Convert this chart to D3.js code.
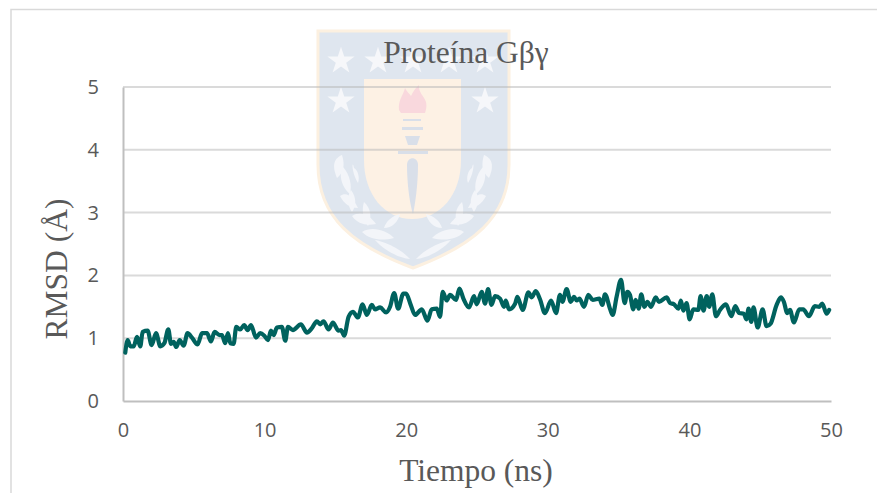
<!DOCTYPE html>
<html>
<head>
<meta charset="utf-8">
<script src="https://cdnjs.cloudflare.com/ajax/libs/d3/7.8.5/d3.min.js"></script>
<style>
html, body { margin: 0; padding: 0; background: #fff; }
svg { display: block; }
.tick-label text { font-family: "Open Sans", sans-serif; font-size: 20px; fill: #595959; }
.serif { font-family: "Liberation Serif", serif; fill: #595959; }
</style>
</head>
<body>
<div class="rmsd"></div>
<script>
var xTicks = [0, 10, 20, 30, 40, 50];
var yTicks = [0, 1, 2, 3, 4, 5];

var tiempo = [0.16, 0.33, 0.52, 0.75, 0.99, 1.22, 1.39, 1.74, 2.02, 2.33, 2.64, 2.92, 3.20, 3.39, 3.58, 3.76, 4.00, 4.28, 4.56, 4.87,
    5.27, 5.58, 5.93, 6.21, 6.47, 6.82, 6.99, 7.22, 7.41, 7.58, 7.81, 8.00, 8.28, 8.56, 8.80, 9.04, 9.39, 9.69, 9.98,
    10.24, 10.45, 10.64, 10.87, 11.22, 11.46, 11.65, 12.00, 12.56, 12.99, 13.34, 13.69, 13.93, 14.16, 14.52, 14.82,
    15.22, 15.39, 15.62, 15.93, 16.24, 16.59, 16.92, 17.22, 17.57, 17.80, 18.16, 18.58, 18.86, 19.15, 19.43, 19.80, 19.99,
    20.32, 20.63, 21.10, 21.50, 21.80, 22.16, 22.39, 22.58, 22.86, 23.10, 23.52, 23.76, 24.04, 24.44, 24.79, 24.98,
    25.33, 25.57, 25.78, 26.02, 26.28, 26.63, 26.91, 27.03, 27.26, 27.69, 27.85, 28.23, 28.63, 28.86, 29.15, 29.45, 29.80,
    30.23, 30.58, 30.86, 31.03, 31.33, 31.62, 31.85, 32.04, 32.23, 32.56, 32.86, 33.17, 33.64, 33.85, 34.04, 34.39, 34.58, 34.86,
    35.17, 35.43, 35.62, 35.80, 36.04, 36.20, 36.42, 36.60, 36.82, 37.03, 37.29, 37.62, 37.85, 38.39, 38.63, 38.91, 39.22, 39.40, 39.57, 39.80,
    40.02, 40.27, 40.63, 40.79, 41.00, 41.22, 41.40, 41.62, 41.87, 42.16, 42.58, 42.96, 43.24, 43.52, 43.85, 44.02, 44.18, 44.37, 44.53, 44.82,
    45.17, 45.45, 45.73, 46.16, 46.46, 46.67, 46.91, 47.10, 47.38, 47.76, 48.04, 48.44, 48.86, 49.17, 49.38, 49.69, 49.87];

var rmsd = [0.77, 0.97, 0.87, 0.87, 1.02, 0.87, 1.10, 1.12, 0.89, 1.08, 0.87, 0.92, 1.14, 0.91, 0.94, 0.86, 0.97, 0.88, 1.08, 1.01,
    0.90, 1.08, 1.08, 0.95, 1.10, 1.05, 1.05, 0.92, 1.08, 0.92, 0.91, 1.18, 1.14, 1.21, 1.13, 1.21, 1.01, 1.08, 1.04,
    0.97, 1.12, 1.05, 1.17, 1.18, 0.96, 1.18, 1.13, 1.22, 1.09, 1.16, 1.27, 1.22, 1.27, 1.14, 1.25,
    1.12, 1.13, 1.04, 1.34, 1.42, 1.33, 1.54, 1.37, 1.53, 1.46, 1.49, 1.41, 1.50, 1.72, 1.47, 1.71, 1.71,
    1.53, 1.37, 1.46, 1.28, 1.46, 1.47, 1.34, 1.74, 1.60, 1.69, 1.61, 1.79, 1.63, 1.49, 1.67, 1.54,
    1.74, 1.55, 1.78, 1.53, 1.67, 1.63, 1.50, 1.60, 1.46, 1.55, 1.66, 1.45, 1.73, 1.65, 1.75, 1.62, 1.40,
    1.60, 1.40, 1.69, 1.58, 1.78, 1.58, 1.66, 1.60, 1.63, 1.50, 1.69, 1.61, 1.63, 1.53, 1.70, 1.47, 1.37, 1.66,
    1.93, 1.56, 1.74, 1.69, 1.46, 1.61, 1.47, 1.70, 1.50, 1.58, 1.50, 1.65, 1.58, 1.65, 1.56, 1.54, 1.47, 1.60, 1.44, 1.56,
    1.30, 1.46, 1.45, 1.67, 1.44, 1.67, 1.50, 1.70, 1.35, 1.45, 1.54, 1.35, 1.51, 1.40, 1.39, 1.30, 1.47, 1.26, 1.49, 1.17,
    1.46, 1.19, 1.23, 1.53, 1.65, 1.58, 1.40, 1.45, 1.25, 1.46, 1.46, 1.35, 1.51, 1.50, 1.55, 1.39, 1.45];

var titulo = "Proteína Gβγ";
var xTitulo = "Tiempo (ns)";
var yTitulo = "RMSD (Å)";

function drawEscudo(svg) {
    // university crest behind the chart, very pale
    var g = svg.append("g").attr("class", "escudo");

    g.append("path")
        .attr("d", "M318,31 H509 V165 C509,218 472,246 413,268 C354,246 318,218 318,165 Z")
        .attr("fill", "#dfe6ef")
        .attr("stroke", "#fcf0e0")
        .attr("stroke-width", 3);

    g.append("path")
        .attr("d", "M364,79 H461 V160 C461,195 440,219 412,219 C385,219 364,195 364,160 Z")
        .attr("fill", "#fdf1e4");

    // flame
    g.append("path")
        .attr("d", "M399,110 C398,100 403,96 405,88 C407,92 409,93 411,96 C413,92 415,88 419,85 C418,92 424,96 426,102 C427,106 426,110 425,113 H401 Z")
        .attr("fill", "#f9d8dd");

    // torch
    g.append("g").attr("fill", "#d9dfe9").selectAll("rect")
        .data([[403, 119, 18, 2], [402, 127, 21, 3], [398, 151, 30, 3]])
        .enter().append("rect")
        .attr("x", function (d) { return d[0]; })
        .attr("y", function (d) { return d[1]; })
        .attr("width", function (d) { return d[2]; })
        .attr("height", function (d) { return d[3]; });
    g.append("path").attr("d", "M405,136 H420 L417,145 H408 Z").attr("fill", "#d9dfe9");
    g.append("path")
        .attr("d", "M407,165 C407,156 418,156 418,165 C418,185 415,205 413,214 C410,205 407,185 407,165 Z")
        .attr("fill", "#d9dfe9");

    // stars
    var star = d3.symbol().type(d3.symbolStar).size(230);
    g.append("g").attr("fill", "#f6f7fa").selectAll("path")
        .data([[341, 61], [378, 61], [413, 61], [449, 61], [485, 61], [341, 101], [485, 101]])
        .enter().append("path")
        .attr("d", star)
        .attr("transform", function (d) { return "translate(" + d[0] + "," + d[1] + ")"; });

    // laurels, one side mirrored onto the other
    var hojas = ["M337,178 C331,164 335,158 342,155 C345,165 344,172 337,178 Z",
        "M350,194 C340,186 339,172 343,167 C350,175 352,185 350,194 Z",
        "M358,183 C351,172 352,158 354,168 C358,170 360,178 358,183 Z",
        "M340,196 C348,190 354,200 358,208 C350,208 344,204 340,196 Z",
        "M352,212 C347,205 347,196 351,190 C357,198 356,206 352,212 Z",
        "M352,216 C362,210 370,216 376,224 C366,226 358,224 352,216 Z",
        "M368,226 C362,218 362,208 364,202 C371,208 372,218 368,226 Z",
        "M362,232 C372,226 386,230 394,238 C382,241 370,240 362,232 Z",
        "M384,228 C386,221 392,216 400,214 C398,222 392,228 384,228 Z",
        "M375,240 C385,242 400,248 410,259 C398,258 384,250 375,240 Z"];
    g.append("g").attr("fill", "#f3f5f9").selectAll("path")
        .data(hojas)
        .enter().append("path")
        .attr("d", function (d) { return d; });
    g.append("g").attr("fill", "#f3f5f9")
        .attr("transform", "translate(826,0) scale(-1,1)")
        .selectAll("path")
        .data(hojas)
        .enter().append("path")
        .attr("d", function (d) { return d; });
}

function drawRmsd() {
    var margin = { top: 87, right: 46, bottom: 92, left: 123 };

    var x = d3.scaleLinear().domain([0, 50]).range([0, 708]);
    var y = d3.scaleLinear().domain([0, 5]).range([314, 0]);

    var svg = d3.select(".rmsd").append("svg")
        .attr("width", 877)
        .attr("height", 493);

    // outer chart frame, cut by the page on the right and bottom
    svg.append("path")
        .attr("d", "M11,493 V9.5 H877")
        .attr("fill", "none")
        .attr("stroke", "#d9d9d9")
        .attr("stroke-width", 1.5);

    drawEscudo(svg);

    var chart = svg.append("g")
        .attr("transform", "translate(" + margin.left + "," + margin.top + ")");

    chart.selectAll(".grid")
        .data(yTicks.slice(1))
        .enter().append("line")
        .attr("class", "grid")
        .attr("x1", 0)
        .attr("x2", x(50))
        .attr("y1", function (d) { return y(d); })
        .attr("y2", function (d) { return y(d); })
        .attr("stroke", "#b5b5b5")
        .attr("stroke-opacity", 0.5)
        .attr("stroke-width", 2);

    var yAxis = d3.axisLeft(y).tickValues(yTicks).tickFormat(d3.format("d")).tickSize(0).tickPadding(24);
    var xAxis = d3.axisBottom(x).tickValues(xTicks).tickFormat(d3.format("d")).tickSize(0).tickPadding(22);

    var gy = chart.append("g").attr("class", "tick-label").call(yAxis);
    var gx = chart.append("g").attr("class", "tick-label")
        .attr("transform", "translate(0," + y(0) + ")")
        .call(xAxis);
    gy.selectAll(".domain").attr("stroke", "#bfbfbf").attr("stroke-width", 2);
    gx.selectAll(".domain").attr("stroke", "#bfbfbf").attr("stroke-width", 2);

    var line = d3.line()
        .curve(d3.curveMonotoneX)
        .x(function (d, i) { return x(tiempo[i]); })
        .y(function (d) { return y(d); });

    chart.append("path")
        .attr("d", line(rmsd))
        .attr("fill", "none")
        .attr("stroke", "#00625e")
        .attr("stroke-width", 4.2)
        .attr("stroke-linejoin", "round")
        .attr("stroke-linecap", "round");

    svg.append("text")
        .attr("class", "serif")
        .attr("x", 466)
        .attr("y", 63)
        .attr("text-anchor", "middle")
        .style("font-size", "31.5px")
        .text(titulo);

    svg.append("text")
        .attr("class", "serif")
        .attr("x", 476)
        .attr("y", 481)
        .attr("text-anchor", "middle")
        .style("font-size", "31.5px")
        .text(xTitulo);

    svg.append("text")
        .attr("class", "serif")
        .attr("transform", "translate(67,269) rotate(-90)")
        .attr("text-anchor", "middle")
        .style("font-size", "31.5px")
        .text(yTitulo);
}

drawRmsd();
</script>
</body>
</html>
